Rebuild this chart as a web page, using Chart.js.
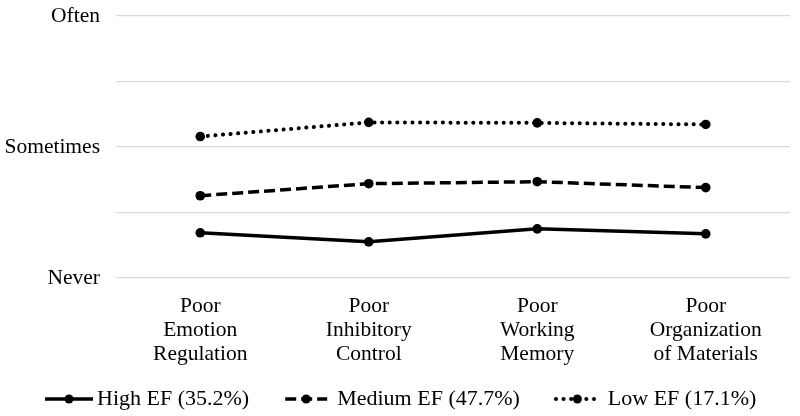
<!DOCTYPE html>
<html>
<head>
<meta charset="utf-8">
<script src="https://cdn.jsdelivr.net/npm/chart.js@4"></script>
<style>
  body { margin: 0; background: #fff; }
  #wrap { width: 800px; height: 416px; }
</style>
</head>
<body>
<div id="wrap"><canvas id="lineChart"></canvas></div>
<script>
// categories and series
var categories = [
  ['Poor', 'Emotion', 'Regulation'],
  ['Poor', 'Inhibitory', 'Control'],
  ['Poor', 'Working', 'Memory'],
  ['Poor', 'Organization', 'of Materials']
];
var seriesNames = ['High EF (35.2%)', 'Medium EF (47.7%)', 'Low EF (17.1%)'];
var highEF = [1.345, 1.276, 1.375, 1.337];
var mediumEF = [1.628, 1.72, 1.735, 1.69];
var lowEF = [2.08, 2.188, 2.184, 2.172];
var yTickLabels = {1: 'Never', 2: 'Sometimes', 3: 'Often'};

var dashes = [[], [11, 5], [0.1, 7.5]];
var iconLengths = [48, 42, 43];
var iconGaps = [4, 10, 9];
var serif = '"Liberation Serif", "Times New Roman", serif';

// legend icon: line with a dot in the middle, sitting at the right of the box
var BOXW = 72;
function legendIcon(i) {
  var c = document.createElement('canvas');
  c.width = BOXW + 20; c.height = 12;
  var g = c.getContext('2d');
  // canvas x 10 == box left edge, text starts at box + BOXW + 11
  var x1 = 10 + BOXW + 11 - iconGaps[i], x0 = x1 - iconLengths[i];
  g.strokeStyle = '#000';
  g.lineWidth = i === 2 ? 4 : 3.5;
  g.lineCap = i === 2 ? 'round' : 'butt';
  g.setLineDash(dashes[i]);
  g.beginPath(); g.moveTo(x0, 6); g.lineTo(x1, 6); g.stroke();
  g.setLineDash([]);
  g.fillStyle = '#000';
  g.beginPath(); g.arc((x0 + x1) / 2, 6, 4.5, 0, Math.PI * 2); g.fill();
  return c;
}

function makeSet(label, data, dash) {
  var dotted = dash.length && dash[0] < 1;
  return {
    label: label,
    data: data,
    borderColor: '#000',
    backgroundColor: '#000',
    borderWidth: dotted ? 4 : 3.5,
    borderDash: dash,
    borderCapStyle: dotted ? 'round' : 'butt',
    pointRadius: 4.8,
    pointHoverRadius: 4.8,
    pointBackgroundColor: '#000',
    pointBorderWidth: 0,
    tension: 0
  };
}

// nudge the legend into place after layout
var legendNudge = {
  id: 'legendNudge',
  afterLayout: function (chart) {
    chart.legend.left += 9;
    chart.legend.top += 4;
  }
};

var ctx = document.getElementById('lineChart').getContext('2d');
var lineChart = new Chart(ctx, {
  type: 'line',
  data: {
    labels: categories,
    datasets: [
      makeSet(seriesNames[0], highEF, dashes[0]),
      makeSet(seriesNames[1], mediumEF, dashes[1]),
      makeSet(seriesNames[2], lowEF, dashes[2])
    ]
  },
  plugins: [legendNudge],
  options: {
    responsive: true,
    maintainAspectRatio: false,
    animation: false,
    layout: { padding: { top: 16, right: 10, left: 0, bottom: 0 } },
    plugins: {
      tooltip: { enabled: false },
      legend: {
        position: 'bottom',
        align: 'start',
        labels: {
          color: '#000',
          usePointStyle: true,
          pointStyleWidth: BOXW,
          padding: 5,
          font: { family: serif, size: 22 },
          generateLabels: function (chart) {
            return chart.data.datasets.map(function (ds, i) {
              return {
                text: ds.label,
                pointStyle: legendIcon(i),
                fillStyle: '#000',
                strokeStyle: '#000',
                lineWidth: 0,
                fontColor: '#000',
                hidden: false,
                datasetIndex: i
              };
            });
          }
        }
      }
    },
    scales: {
      x: {
        offset: true,
        grid: { display: false, drawTicks: false },
        border: { display: false },
        ticks: {
          color: '#000',
          maxRotation: 0,
          padding: 16,
          font: { family: serif, size: 21.5, lineHeight: 1.12 }
        },
        afterFit: function (axis) { axis.height = 101; }
      },
      y: {
        min: 1,
        max: 3,
        grid: { color: '#d9d9d9', lineWidth: 1.3, drawTicks: false },
        border: { display: false },
        ticks: {
          stepSize: 0.5,
          color: '#000',
          padding: 16,
          font: { family: serif, size: 21.5 },
          callback: function (v) { return yTickLabels[v] || ''; }
        },
        afterFit: function (axis) {
          axis.width = 116;
          axis.paddingTop = 0;
          axis.paddingBottom = 0;
        }
      }
    }
  }
});
</script>
</body>
</html>
